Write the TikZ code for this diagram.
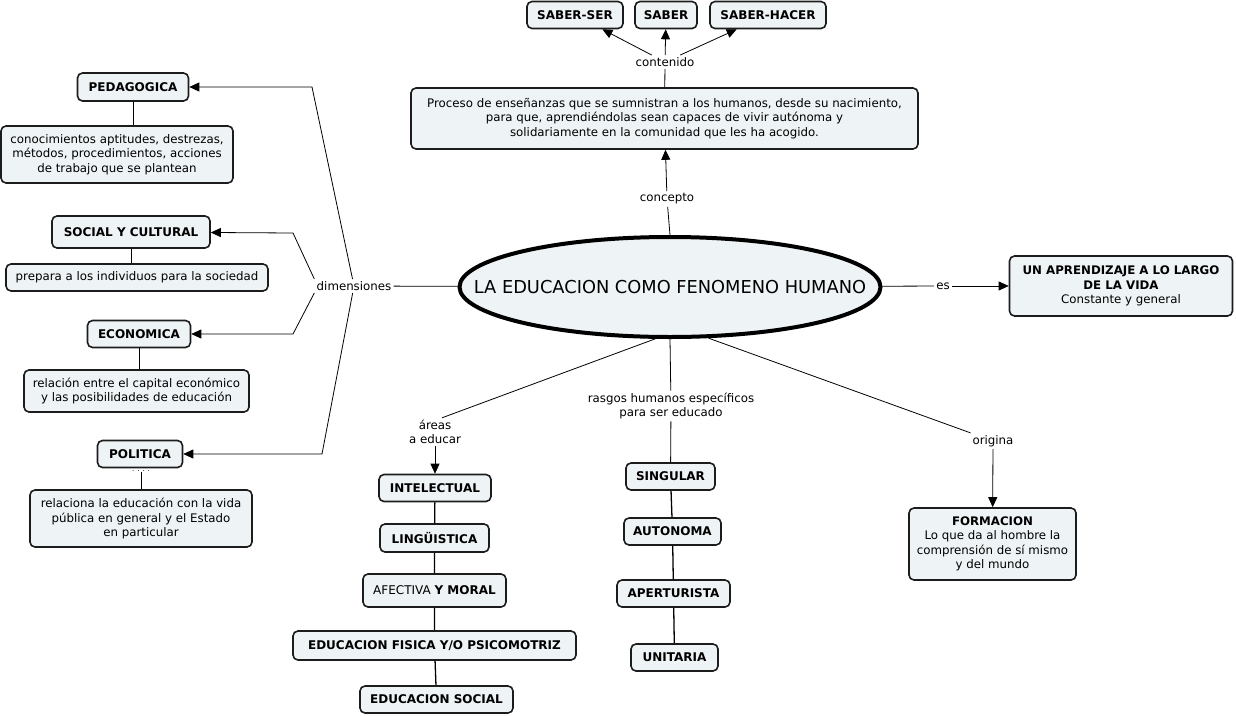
\documentclass[tikz,border=0pt]{standalone}
\usepackage{fontspec}
\setmainfont{DejaVu Sans}
\usetikzlibrary{arrows.meta, shapes.geometric}

\definecolor{boxfill}{HTML}{EEF3F5}
\definecolor{boxline}{HTML}{1C1C1C}

\tikzset{
  concept/.style={draw=boxline, fill=boxfill, line width=1.6pt, rounded corners=5pt,
    inner xsep=6pt, inner ysep=2pt, minimum height=27pt, align=center,
    font=\fontsize{12}{14}\selectfont\bfseries},
  desc/.style={concept, font=\fontsize{11.8}{14.5}\selectfont},
  mainidea/.style={ellipse, draw=black, fill=boxfill, line width=4pt, inner sep=0pt,
    minimum width=421pt, minimum height=100pt, font=\fontsize{17.8}{20}\selectfont},
  linkword/.style={inner sep=2pt, align=center, font=\fontsize{11.8}{14}\selectfont},
  chain/.style={line width=1.3pt}
}

\begin{document}
\begin{tikzpicture}[x=1pt, y=-1pt, >={Triangle[length=10pt, width=9pt]}, line width=0.8pt]
    \useasboundingbox (0,0) rectangle (1236,715);

    %define the central idea
    \node[mainidea] (edu) at (670,287) {\makebox[0pt]{LA EDUCACION COMO FENOMENO HUMANO}};

    %define concepto and contenido
    \node[linkword] (conc) at (667,199) {concepto};
    \node[desc, minimum width=507pt, minimum height=61pt] (proc) at (664.5,118.5)
      {Proceso de enseñanzas que se sumnistran a los humanos, desde su nacimiento,\\
       para que, aprendiéndolas sean capaces de vivir autónoma y\\
       solidariamente en la comunidad que les ha acogido.};
    \node[linkword] (cont) at (665,62) {contenido};
    \node[concept, minimum width=96pt] (ser) at (575,15) {SABER-SER};
    \node[concept, minimum width=62pt] (sab) at (666,15) {SABER};
    \node[concept, minimum width=116pt] (hac) at (768,15) {SABER-HACER};

    %define es
    \node[linkword] (es) at (943,286) {es};
    \node[desc, minimum width=223pt, minimum height=60pt] (apren) at (1121,286)
      {\textbf{UN APRENDIZAJE A LO LARGO}\\ \textbf{DE LA VIDA}\\ Constante y general};

    %define dimensiones
    \node[linkword] (dim) at (354,286) {dimensiones};
    \coordinate (cped) at (312,87);
    \coordinate (csoc) at (293,233);
    \coordinate (ceco) at (293,334);
    \coordinate (cpol) at (322,454);
    \node[concept, minimum width=111pt, minimum height=28pt] (ped) at (133,87) {PEDAGOGICA};
    \node[desc, minimum width=232pt, minimum height=57pt] (peddesc) at (117,154.5)
      {conocimientos aptitudes, destrezas,\\ métodos, procedimientos, acciones\\ de trabajo que se plantean};
    \node[concept, minimum width=158pt, minimum height=32pt] (soc) at (131,232) {SOCIAL Y CULTURAL};
    \node[desc, minimum width=262pt] (socdesc) at (137,277.5) {prepara a los individuos para la sociedad};
    \node[concept, minimum width=103pt] (eco) at (139,334) {ECONOMICA};
    \node[desc, minimum width=225pt, minimum height=42pt] (ecodesc) at (136.5,391)
      {relación entre el capital económico\\ y las posibilidades de educación};
    \node[concept, minimum width=85pt] (pol) at (140,454) {POLITICA};
    \node[inner sep=0pt, font=\fontsize{7}{7}\selectfont] (poldots) at (141,471) {. . . .};
    \node[desc, minimum width=222pt, minimum height=57pt] (poldesc) at (141,518.5)
      {relaciona la educación con la vida\\ pública en general y el Estado\\ en particular};

    %define areas a educar
    \node[linkword] (areas) at (435,432) {áreas\\a educar};
    \node[concept, minimum width=112pt] (intel) at (435,488) {INTELECTUAL};
    \node[concept, minimum width=109pt, minimum height=28pt] (ling) at (434.5,538) {LINGÜISTICA};
    \node[concept, minimum width=143pt, minimum height=33pt] (afec) at (434.5,590.5)
      {\mdseries AFECTIVA \bfseries Y MORAL};
    \node[concept, minimum width=283pt, minimum height=29pt] (fis) at (434.5,645.5) {EDUCACION FISICA Y/O PSICOMOTRIZ};
    \node[concept, minimum width=153pt] (edsoc) at (436.5,699.5) {EDUCACION SOCIAL};

    %define rasgos humanos
    \node[linkword] (rasg) at (671,406) {rasgos humanos específicos\\para ser educado};
    \node[concept, minimum width=89pt] (sing) at (670.5,476.5) {SINGULAR};
    \node[concept, minimum width=97pt] (auto) at (672.5,531.5) {AUTONOMA};
    \node[concept, minimum width=113pt] (aper) at (673.5,593.5) {APERTURISTA};
    \node[concept, minimum width=87pt] (unit) at (674.5,657.5) {UNITARIA};

    %define origina
    \node[linkword] (orig) at (993,441) {origina};
    \node[desc, minimum width=167pt, minimum height=72pt] (form) at (992.5,544)
      {\textbf{FORMACION}\\ Lo que da al hombre la\\ comprensión de sí mismo\\ y del mundo};

    %define the links
    \draw (edu.north) -- (conc);
    \draw[->] (conc) -- (proc);
    \draw (proc) -- (cont);
    \path[->] (cont) edge (ser)
                     edge (sab)
                     edge (hac);

    \draw (edu) -- (es);
    \draw[->] (es) -- (apren);

    \draw (edu) -- (dim);
    \draw[->] (dim) -- (cped) -- (ped);
    \draw[->] (dim.north west) -- (csoc) -- (soc);
    \draw[->] (dim.south west) -- (ceco) -- (eco);
    \draw[->] (dim) -- (cpol) -- (pol);
    \draw (ped) -- (peddesc.north -| ped);
    \draw (soc) -- (socdesc.north -| soc);
    \draw (eco) -- (ecodesc.north -| eco);
    \draw (poldots) -- (poldesc.north -| poldots);

    \draw (edu.-106) -- ([xshift=7pt]areas.north);
    \draw[->] (areas) -- (intel);
    \draw[chain] (intel) -- (ling) -- (afec) -- (fis) -- (edsoc);

    \draw (edu.south) -- (rasg);
    \draw (rasg) -- (sing);
    \draw[chain] (sing) -- (auto) -- (aper) -- (unit);

    \draw (edu.-53) -- (orig);
    \draw[->] (orig) -- (form);

\end{tikzpicture}
\end{document}
